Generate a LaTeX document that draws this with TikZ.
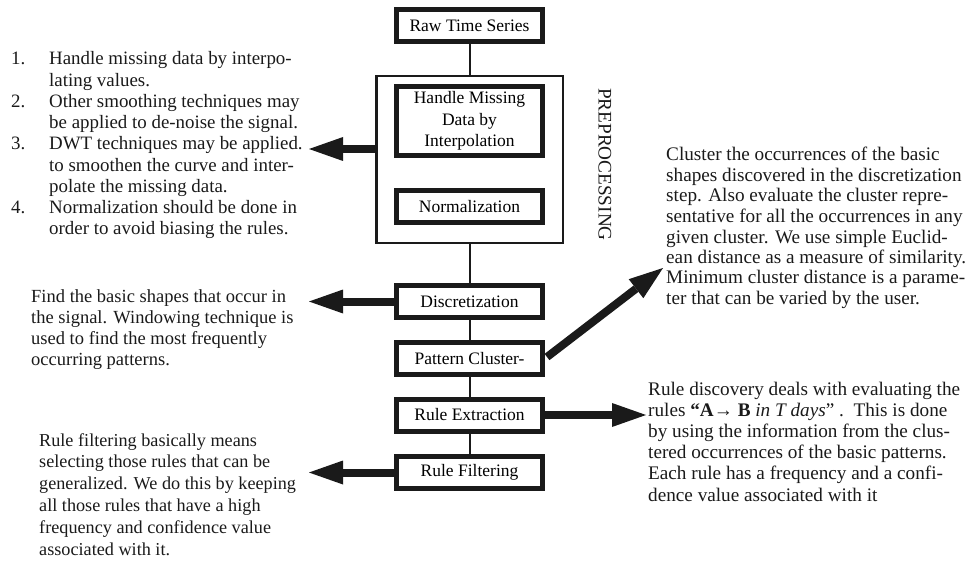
\documentclass[tikz,border=0pt]{standalone}
\usepackage{fontspec}
\setmainfont{Liberation Serif}
\usetikzlibrary{arrows.meta}
\definecolor{ink}{HTML}{1A1A1A}
\tikzset{
  box/.style={draw=ink, line width=5pt, minimum width=146pt, minimum height=32pt,
    inner sep=0pt, align=center, font=\fontsize{17.5}{21.5}\selectfont},
  outerbox/.style={draw=ink, line width=2.5pt, minimum width=186.5pt, minimum height=166.5pt, inner sep=0pt},
  link/.style={draw=ink, line width=2pt},
  fat/.style={draw=ink, line width=8pt, -{Triangle[length=34pt,width=24pt,line width=0pt]}},
  txt/.style={anchor=base west, inner sep=0pt, text=ink},
}
\begin{document}
\begin{tikzpicture}[x=1pt,y=-1pt]
\useasboundingbox (0,0) rectangle (965,561);

% flow boxes
\node[box] (raw) at (469.5,26) {Raw Time Series};
\node[outerbox] (pre) at (469.5,159.5) {};
\node[box, minimum height=69pt] (hm) at (469.5,121) {Handle Missing\\Data by\\Interpolation};
\node[box] (norm) at (469.5,206.5) {Normalization};
\node[box] (disc) at (469.5,301.5) {Discretization};
\node[box] (pc) at (469.5,358.5) {Pattern Cluster-};
\node[box] (re) at (469.5,415) {Rule Extraction};
\node[box] (rf) at (469.5,472.5) {Rule Filtering};
\node[rotate=-90, inner sep=0pt, text=ink, font=\fontsize{19.2}{21}\selectfont] (pplabel) at (605,164.5) {PREPROCESSING};

% connectors
\draw[link] (raw) -- (pre);
\draw[link] (pre) -- (disc);
\draw[link] (disc) -- (pc);
\draw[link] (pc) -- (re);
\draw[link] (re) -- (rf);

% text blocks
\node[txt, font=\fontsize{18.9}{21.25}\selectfont] (list) at (11,65) {\begin{tabular}[t]{@{}p{38pt}@{}l@{}}
1. & Handle missing data by interpo-\\
 & lating values.\\
2. & Other smoothing techniques may\\
 & be applied to de-noise the signal.\\
3. & DWT techniques may be applied.\\
 & to smoothen the curve and inter-\\
 & polate the missing data.\\
4. & Normalization should be done in\\
 & order to avoid biasing the rules.
\end{tabular}};

\node[txt, font=\fontsize{18.5}{21.3}\selectfont] (findtxt) at (31,302) {\begin{tabular}[t]{@{}l@{}}
Find the basic shapes that occur in\\
the signal. Windowing technique is\\
used to find the most frequently\\
occurring patterns.
\end{tabular}};

\node[txt, font=\fontsize{18.2}{21.8}\selectfont] (filttxt) at (39,446) {\begin{tabular}[t]{@{}l@{}}
Rule filtering basically means\\
selecting those rules that can be\\
generalized. We do this by keeping\\
all those rules that have a high\\
frequency and confidence value\\
associated with it.
\end{tabular}};

\node[txt, font=\fontsize{19.2}{20.5}\selectfont] (clustxt) at (666,161) {\begin{tabular}[t]{@{}l@{}}
Cluster the occurrences of the basic\\
shapes discovered in the discretization\\
step. Also evaluate the cluster repre-\\
sentative for all the occurrences in any\\
given cluster. We use simple Euclid-\\
ean distance as a measure of similarity.\\
Minimum cluster distance is a parame-\\
ter that can be varied by the user.
\end{tabular}};

\node[txt, font=\fontsize{19.2}{21.2}\selectfont] (ruletxt) at (648,395) {\begin{tabular}[t]{@{}l@{}}
Rule discovery deals with evaluating the\\
rules \textbf{“A→ B} \textit{in T days}” .\ \ This is done\\
by using the information from the clus-\\
tered occurrences of the basic patterns.\\
Each rule has a frequency and a confi-\\
dence value associated with it
\end{tabular}};

% fat arrows
\coordinate (t1) at (309,149);
\coordinate (t2) at (309,301.5);
\coordinate (t3) at (309,472.5);
\coordinate (t4) at (646,415);
\coordinate (t5) at (663,268);
\coordinate (s5) at (547,357);
\draw[fat] (pre.west |- t1) -- (t1);
\draw[fat] (disc.west) -- (t2);
\draw[fat] (rf.west) -- (t3);
\draw[fat] (re.east) -- (t4);
\draw[fat] (s5) -- (t5);
\end{tikzpicture}
\end{document}
